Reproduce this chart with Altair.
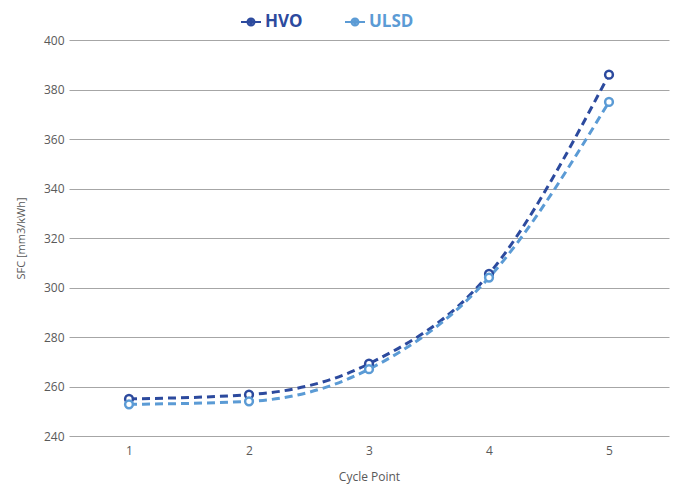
import altair as alt
import pandas as pd

cycle_points = [1, 2, 3, 4, 5]
hvo = [255.0, 256.7, 269.2, 305.5, 386.0]
ulsd = [252.8, 254.0, 267.0, 304.0, 375.0]
series_names = ["HVO", "ULSD"]
series_colors = ["#2C4A9E", "#5B9BD5"]

rows = []
for name, vals in zip(series_names, [hvo, ulsd]):
    for c, v in zip(cycle_points, vals):
        rows.append({"Cycle Point": c, "SFC": v, "Series": name})
df = pd.DataFrame(rows)

font = "Open Sans"
symbol_path = (
    "M-1,0L1,0"
    "M-0.35,0A0.35,0.35,0,1,1,0.35,0A0.35,0.35,0,1,1,-0.35,0Z"
    "M-0.15,0A0.15,0.15,0,1,1,0.15,0A0.15,0.15,0,1,1,-0.15,0Z"
)
color = alt.Color(
    "Series:N",
    scale=alt.Scale(domain=series_names, range=series_colors),
    legend=alt.Legend(
        title=None,
        orient="none",
        direction="horizontal",
        legendX=171,
        legendY=-29,
        labelFont=font,
        labelFontSize=17,
        labelFontWeight="bold",
        labelColor=alt.ExprRef("datum.label == 'HVO' ? '#2C4A9E' : '#5B9BD5'"),
        symbolType=symbol_path,
        symbolSize=400,
        symbolStrokeWidth=2,
        columnPadding=38,
        labelOffset=3,
    ),
)

x = alt.X(
    "Cycle Point:O",
    scale=alt.Scale(type="point", padding=0.5),
    axis=alt.Axis(
        labelAngle=0, ticks=False, domain=False, grid=False,
        labelPadding=9, titlePadding=15, labelFontSize=12, titleFontSize=12,
        labelColor="#595959", titleColor="#595959", labelFont=font, titleFont=font,
        titleFontWeight="normal",
    ),
)
y = alt.Y(
    "SFC:Q",
    title="SFC [mm3/kWh]",
    scale=alt.Scale(domain=[240, 400], nice=False, zero=False),
    axis=alt.Axis(
        values=[240, 260, 280, 300, 320, 340, 360, 380, 400],
        ticks=False, domain=False, grid=True, gridColor="#A6A6A6", gridWidth=1,
        labelPadding=5, titlePadding=17, labelFontSize=12, titleFontSize=11,
        labelColor="#595959", titleColor="#595959", labelFont=font, titleFont=font,
        titleFontWeight="normal",
    ),
)

lines = alt.Chart(df).mark_line(
    interpolate="monotone", strokeWidth=3, strokeDash=[8, 5]
).encode(x=x, y=y, color=color)

points = alt.Chart(df).mark_point(
    shape="circle", filled=False, fill="white", size=60, strokeWidth=2.5, opacity=1
).encode(x=x, y=y, color=alt.Color("Series:N", scale=alt.Scale(domain=series_names, range=series_colors), legend=None))

chart = alt.layer(lines, points).properties(
    width=600,
    height=396,
    autosize=alt.AutoSizeParams(type="none"),
    padding={"left": 61, "top": 32, "right": 1, "bottom": 52},
).configure_view(stroke=None)

chart.save("out.html", embed_options={"renderer": "svg", "actions": False})
